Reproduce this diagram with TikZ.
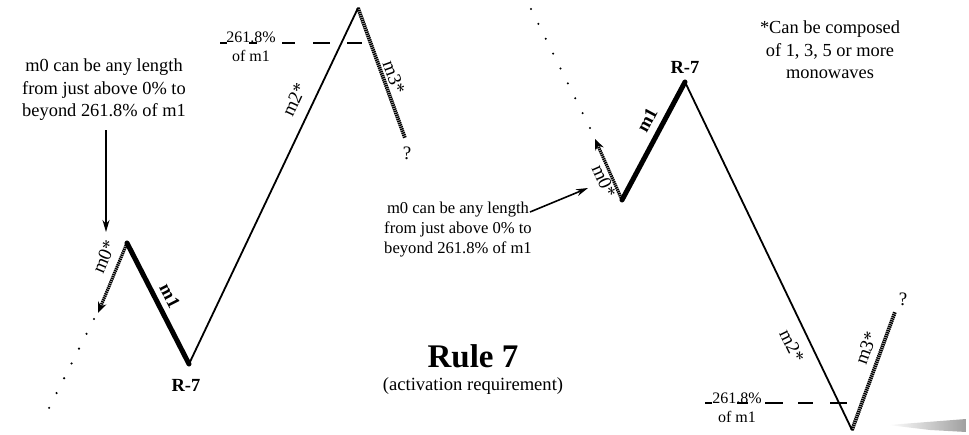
\documentclass[tikz,border=0pt]{standalone}
\usepackage{fontspec}
\setmainfont{Liberation Serif}
\usetikzlibrary{arrows.meta}
\begin{document}
\begin{tikzpicture}[x=1pt,y=-1pt,
  wave/.style={line width=1.8pt, line cap=round, line join=round},
  thickwave/.style={line width=5pt, line cap=round, line join=round},
  hatch/.style={line width=3.8pt, dash pattern=on 1.4pt off 0.7pt},
  hatcharrow/.style={line width=3.2pt, dash pattern=on 1.4pt off 0.7pt, -{Stealth[length=11pt,width=9pt]}},
  dots/.style={line width=2.4pt, line cap=round, dash pattern=on 0pt off 16.6pt},
  pointer/.style={line width=1.6pt, -{Stealth[length=12pt,width=7pt]}},
  fibdash/.style={line width=1.6pt},
  note/.style={font=\fontsize{18.4}{22.5}\selectfont, align=center, inner sep=0pt},
  notesmall/.style={font=\fontsize{16.6}{20}\selectfont, align=center, inner sep=0pt},
  lab/.style={font=\fontsize{19}{22}\selectfont, inner sep=0pt},
  blab/.style={font=\fontsize{18.5}{22}\selectfont\bfseries, inner sep=0pt},
  fib/.style={font=\fontsize{16}{19}\selectfont, align=center, inner sep=0pt}]
\useasboundingbox (0,0) rectangle (969,435);

% ---------- left pattern ----------
\coordinate (A0) at (127,243);
\coordinate (A0t) at (98,313);
\coordinate (Ad1) at (94,319);
\coordinate (Ad2) at (42,422);
\coordinate (A1) at (189,364);
\coordinate (A2) at (358,8);
\coordinate (A3) at (405,138);

\draw[dots] (Ad1) -- (Ad2);
\draw[hatcharrow] (A0) -- (A0t);
\draw[thickwave] (A0) -- (A1);
\draw[wave] (A1) -- (A2);
\draw[hatch] (A2) -- (A3);

\node[lab, rotate=67] (lm0) at (104,257) {m0*};
\node[blab, rotate=-63] (lm1) at (170,296) {m1};
\node[blab] (lr7) at (186,385) {R-7};
\node[lab, rotate=65] (lm2) at (294,100) {m2*};
\node[lab, rotate=-70] (lm3) at (394,77) {m3*};
\node[lab] (lq) at (407,153) {?};

\node[fib] (lfib) at (251,47) {261.8\%\\of m1};
\foreach \a/\b in {220/227,249/257,282/295,313/330,347/362}
  \draw[fibdash] (\a,43) -- (\b,43);

\node[note] (ltext) at (104,90) {m0 can be any length\\from just above 0\% to\\beyond 261.8\% of m1};
\coordinate (Aarr) at (106,232);
\draw[pointer] (ltext.south -| Aarr) ++(0,9) -- (Aarr);

% ---------- right pattern ----------
\coordinate (B0) at (622,200);
\coordinate (B0t) at (595,139);
\coordinate (Bd1) at (590,128);
\coordinate (Bd2) at (530,7);
\coordinate (B1) at (685,82);
\coordinate (B2) at (852,430);
\coordinate (B3) at (895,312);

\draw[dots] (Bd1) -- (Bd2);
\draw[hatcharrow] (B0) -- (B0t);
\draw[thickwave] (B0) -- (B1);
\draw[wave] (B1) -- (B2);
\draw[hatch] (B2) -- (B3);

\node[lab, rotate=-66] (rm0) at (604,181) {m0*};
\node[blab, rotate=62] (rm1) at (647,120) {m1};
\node[blab] (rr7) at (685,67) {R-7};
\node[lab, rotate=-64] (rm2) at (792,346) {m2*};
\node[lab, rotate=70] (rm3) at (866,348) {m3*};
\node[lab] (rq) at (903,299) {?};

\node[fib] (rfib) at (737,408) {261.8\%\\of m1};
\foreach \a/\b in {705/712,737/748,765/783,798/813,830/847}
  \draw[fibdash] (\a,403) -- (\b,403);

\node[notesmall] (rtext) at (458,230) {m0 can be any length\\from just above 0\% to\\beyond 261.8\% of m1};
\coordinate (Rarrs) at (530,212);
\coordinate (Rarre) at (588,188);
\draw[pointer] (Rarrs) -- (Rarre);

% ---------- notes ----------
\node[note] (comp) at (830,50) {*Can be composed\\of 1, 3, 5 or more\\monowaves};
\node[font=\fontsize{33}{36}\selectfont\bfseries, inner sep=0pt] (rule) at (473,356) {Rule 7};
\node[font=\fontsize{18.6}{22}\selectfont, inner sep=0pt] (req) at (473,386) {(activation requirement)};

% scan smudge
\shade[left color=white, right color=gray!75] (888,425) -- (966,419) -- (966,432) -- (930,430) -- cycle;
\end{tikzpicture}
\end{document}
